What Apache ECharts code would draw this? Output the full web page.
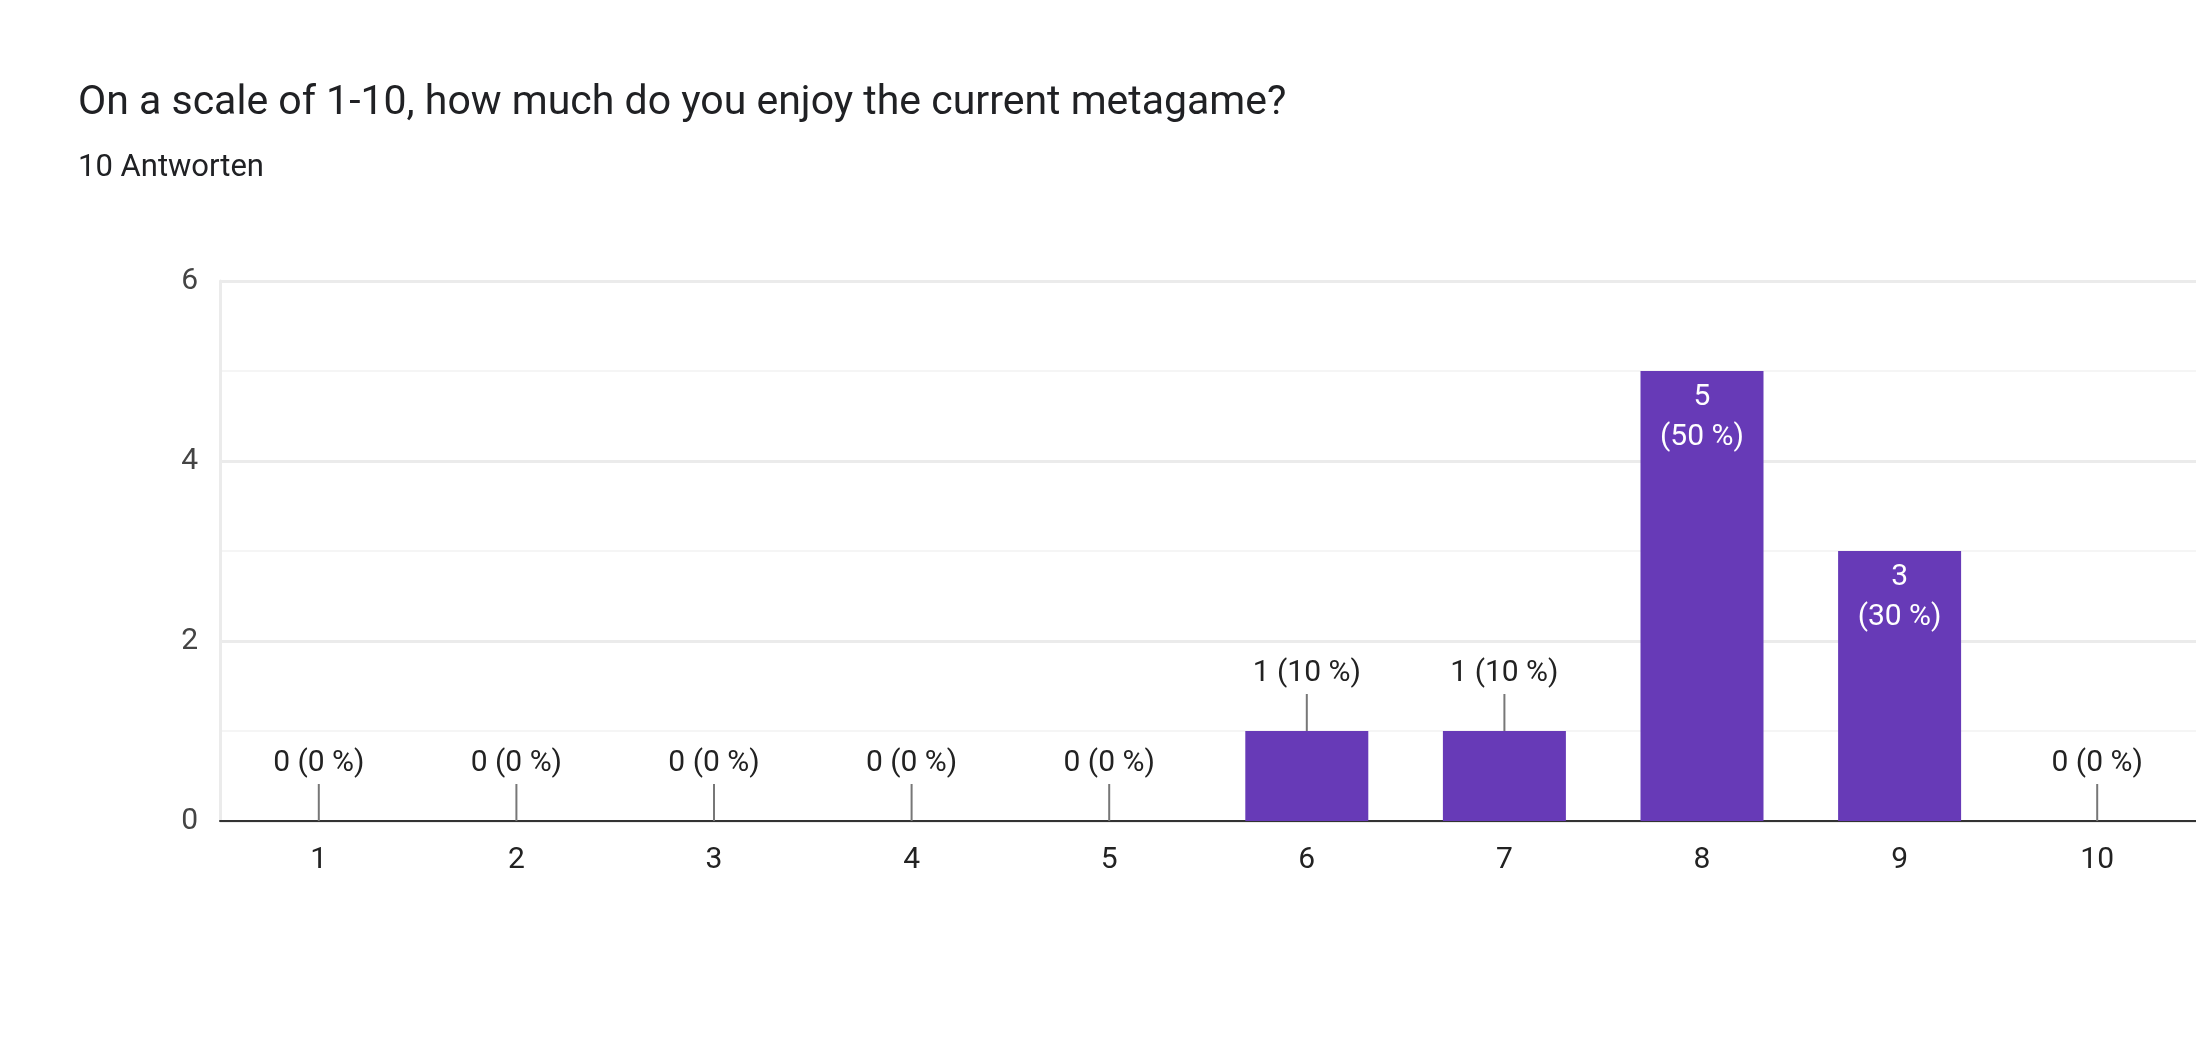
<!DOCTYPE html>
<html lang="de">
<head>
  <meta charset="UTF-8" />
  <title>Metagame</title>
  <script src="https://cdn.jsdelivr.net/npm/echarts@6/dist/echarts.min.js"></script>
  <style>
    html, body { margin: 0; padding: 0; background: #fff; }
    #chart { width: 2196px; height: 1044px; }
  </style>
</head>
<body>
  <div id="chart"></div>
  <script>
    const categories = ['1', '2', '3', '4', '5', '6', '7', '8', '9', '10'];
    const counts = [0, 0, 0, 0, 0, 1, 1, 5, 3, 0];
    const percents = [0, 0, 0, 0, 0, 10, 10, 50, 30, 0];
    const yTicks = [0, 2, 4, 6];

    const chart = echarts.init(document.getElementById('chart'));
    const font = 'Roboto, sans-serif';

    chart.setOption({
      animation: false,
      title: [
        { text: 'On a scale of 1-10, how much do you enjoy the current metagame?', left: 73, top: 78,
          textStyle: { fontFamily: font, fontSize: 41, fontWeight: 'normal', color: '#202124' } },
        { text: '10 Antworten', left: 73, top: 148,
          textStyle: { fontFamily: font, fontSize: 31, fontWeight: 'normal', color: '#202124' } }
      ],
      grid: { left: 220, right: 0, top: 281, bottom: 1044 - 821 },
      xAxis: {
        type: 'category', data: categories,
        axisLine: { lineStyle: { color: '#333', width: 2 } },
        axisTick: { show: false },
        axisLabel: { fontFamily: font, fontSize: 30, color: '#222', margin: 24 }
      },
      yAxis: {
        type: 'value', min: 0, max: 6, interval: 2,
        axisLabel: { fontFamily: font, fontSize: 30, color: '#444', margin: 22,
          formatter: v => yTicks.includes(v) ? String(v) : '' },
        splitLine: { lineStyle: { color: '#ebebeb', width: 3 } },
        minorTick: { show: false, splitNumber: 2 },
        minorSplitLine: { show: true, lineStyle: { color: '#f5f5f5', width: 2 } },
        axisLine: { show: true, lineStyle: { color: '#ebebeb', width: 3 } },
        axisTick: { show: false }
      },
      series: [
        {
          type: 'bar', data: counts, barWidth: 123,
          itemStyle: { color: '#673ab7' },
          label: {
            show: true, position: 'insideTop', distance: 6,
            fontFamily: font, fontSize: 30, color: '#fff', lineHeight: 40,
            formatter: p => p.value >= 3 ? p.value + '\n(' + percents[p.dataIndex] + ' %)' : ''
          }
        },
        {
          type: 'custom', silent: true, z: 5,
          data: counts.map((v, i) => [i, v]),
          renderItem: (params, api) => {
            const i = api.value(0), v = api.value(1);
            if (v >= 3) return null;
            const p = api.coord([i, v]);
            return {
              type: 'group',
              children: [
                { type: 'line', shape: { x1: p[0], y1: p[1], x2: p[0], y2: p[1] - 37 },
                  style: { stroke: '#777', lineWidth: 2 } },
                { type: 'text', x: p[0], y: p[1] - 43,
                  style: { text: v + ' (' + percents[i] + ' %)', fontFamily: font, fontSize: 30,
                    fill: '#222', align: 'center', verticalAlign: 'bottom' } }
              ]
            };
          }
        }
      ]
    });
  </script>
</body>
</html>
